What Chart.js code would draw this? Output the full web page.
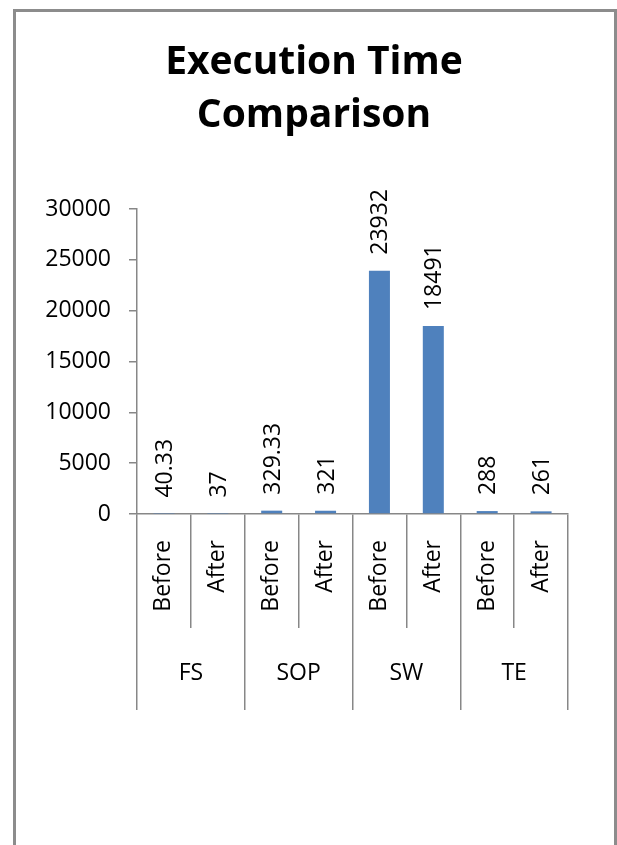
<!DOCTYPE html>
<html>
<head>
<meta charset="utf-8">
<title>Execution Time Comparison</title>
<script src="https://cdn.jsdelivr.net/npm/chart.js@4/dist/chart.umd.min.js"></script>
<style>
  html, body { margin: 0; padding: 0; background: #fff; }
  #wrap { position: relative; width: 617px; height: 845px; overflow: hidden; }
  #grafico { position: absolute; left: 0; top: 0; }
  /* marco gris del gráfico, abierto por abajo */
  #marco {
    position: absolute; left: 13px; top: 9px; width: 598px; height: 900px;
    border: 3px solid #8c8c8c; border-bottom: none; pointer-events: none;
  }
</style>
</head>
<body>
<div id="wrap">
  <canvas id="grafico" width="617" height="845"></canvas>
  <div id="marco"></div>
</div>
<script>
// datos del gráfico
const fases = ['Before', 'After', 'Before', 'After', 'Before', 'After', 'Before', 'After'];
const grupos = ['FS', 'SOP', 'SW', 'TE'];
const tiempos = [40.33, 37, 329.33, 321, 23932, 18491, 288, 261];
const ticksY = [0, 5000, 10000, 15000, 20000, 25000, 30000];

const fuente = 'Open Sans';
const grisEje = '#878787';

// etiquetas de valor giradas sobre cada barra
const etiquetasValor = {
  id: 'etiquetasValor',
  afterDatasetsDraw(chart) {
    const ctx = chart.ctx;
    const meta = chart.getDatasetMeta(0);
    ctx.save();
    ctx.font = `23px "${fuente}"`;
    ctx.fillStyle = '#000';
    ctx.textAlign = 'left';
    ctx.textBaseline = 'middle';
    meta.data.forEach((barra, i) => {
      ctx.save();
      ctx.translate(barra.x + 1.5, barra.y - 16);
      ctx.rotate(-Math.PI / 2);
      ctx.fillText(String(tiempos[i]), 0, 0);
      ctx.restore();
    });
    ctx.restore();
  }
};

Chart.defaults.font.family = fuente;
Chart.defaults.color = '#000';

new Chart(document.getElementById('grafico'), {
  type: 'bar',
  data: {
    labels: fases,
    datasets: [{
      label: 'Execution Time',
      data: tiempos,
      backgroundColor: '#4F81BD',
      borderWidth: 0,
      barPercentage: 0.39,
      categoryPercentage: 1
    }]
  },
  options: {
    responsive: false,
    animation: false,
    layout: { padding: { left: 11, right: 0, top: 0, bottom: 135 } },
    plugins: {
      legend: { display: false },
      tooltip: { enabled: false },
      title: {
        display: true,
        text: ['Execution Time', 'Comparison'],
        color: '#000',
        font: { family: fuente, size: 39, weight: 'bold', lineHeight: 1.36 },
        padding: { top: 36, bottom: 67 }
      }
    },
    scales: {
      y: {
        min: 0,
        max: 30000,
        afterBuildTicks: s => { s.ticks = ticksY.map(v => ({ value: v })); },
        afterFit: s => { s.width = 126; },
        border: { display: true, color: grisEje, width: 1.5 },
        grid: { drawOnChartArea: false, drawTicks: true, tickLength: 8, tickColor: grisEje, lineWidth: 1.5 },
        ticks: { font: { size: 23 }, padding: 18, color: '#000', callback: v => String(v) }
      },
      x: {
        position: 'bottom',
        offset: true,
        afterFit: s => { s.height = 114; s.paddingRight = 49; },
        border: { display: true, color: grisEje, width: 1.5 },
        grid: { offset: true, drawOnChartArea: false, drawTicks: true, tickLength: 114, tickColor: grisEje, lineWidth: 1.5 },
        ticks: { font: { size: 23 }, minRotation: 90, maxRotation: 90, autoSkip: false, padding: -88, color: '#000' }
      },
      x2: {
        type: 'category',
        position: 'bottom',
        labels: grupos,
        offset: true,
        afterFit: s => { s.height = 82; },
        border: { display: false },
        grid: { offset: true, drawOnChartArea: false, drawTicks: true, tickLength: 82, tickColor: grisEje, lineWidth: 1.5 },
        ticks: { font: { size: 23 }, autoSkip: false, padding: -50, color: '#000', maxRotation: 0 }
      }
    }
  },
  plugins: [etiquetasValor]
});
</script>
</body>
</html>
